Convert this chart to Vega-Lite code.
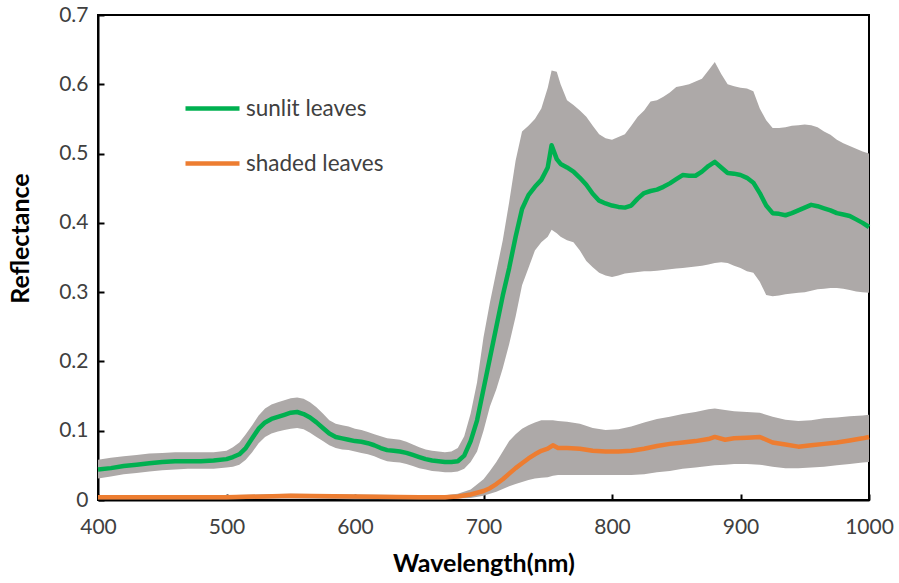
{
  "$schema": "https://vega.github.io/schema/vega-lite/v6.json",
  "width": 771,
  "height": 485,
  "autosize": "none",
  "padding": {"left": 98, "top": 15, "right": 30, "bottom": 83},
  "background": "white",
  "config": {
    "view": {"stroke": "#000000", "strokeWidth": 2},
    "font": "Lato",
    "axis": {
      "domainColor": "#000000",
      "domainWidth": 2,
      "tickColor": "#000000",
      "tickWidth": 2,
      "tickSize": -6,
      "grid": false,
      "labelFlush": false,
      "labelFont": "Lato",
      "labelFontSize": 21,
      "labelColor": "#404040",
      "titleFont": "Lato",
      "titleFontWeight": "bold",
      "titleFontSize": 25,
      "titleColor": "#000000"
    }
  },
  "datasets": {
    "spec": [
      {"w":400,"s":"sunlit leaves","m":0.044,"lo":0.031,"hi":0.058},
      {"w":410,"s":"sunlit leaves","m":0.046,"lo":0.034,"hi":0.061},
      {"w":420,"s":"sunlit leaves","m":0.049,"lo":0.037,"hi":0.063},
      {"w":430,"s":"sunlit leaves","m":0.051,"lo":0.039,"hi":0.065},
      {"w":440,"s":"sunlit leaves","m":0.053,"lo":0.041,"hi":0.067},
      {"w":450,"s":"sunlit leaves","m":0.055,"lo":0.043,"hi":0.068},
      {"w":460,"s":"sunlit leaves","m":0.056,"lo":0.044,"hi":0.069},
      {"w":470,"s":"sunlit leaves","m":0.056,"lo":0.045,"hi":0.069},
      {"w":480,"s":"sunlit leaves","m":0.056,"lo":0.045,"hi":0.069},
      {"w":490,"s":"sunlit leaves","m":0.057,"lo":0.045,"hi":0.069},
      {"w":500,"s":"sunlit leaves","m":0.059,"lo":0.047,"hi":0.071},
      {"w":505,"s":"sunlit leaves","m":0.062,"lo":0.048,"hi":0.076},
      {"w":510,"s":"sunlit leaves","m":0.066,"lo":0.051,"hi":0.083},
      {"w":515,"s":"sunlit leaves","m":0.075,"lo":0.058,"hi":0.095},
      {"w":520,"s":"sunlit leaves","m":0.089,"lo":0.069,"hi":0.108},
      {"w":525,"s":"sunlit leaves","m":0.103,"lo":0.082,"hi":0.122},
      {"w":530,"s":"sunlit leaves","m":0.112,"lo":0.091,"hi":0.132},
      {"w":535,"s":"sunlit leaves","m":0.117,"lo":0.096,"hi":0.138},
      {"w":540,"s":"sunlit leaves","m":0.120,"lo":0.099,"hi":0.141},
      {"w":545,"s":"sunlit leaves","m":0.123,"lo":0.101,"hi":0.144},
      {"w":550,"s":"sunlit leaves","m":0.126,"lo":0.103,"hi":0.147},
      {"w":555,"s":"sunlit leaves","m":0.127,"lo":0.104,"hi":0.148},
      {"w":560,"s":"sunlit leaves","m":0.124,"lo":0.102,"hi":0.146},
      {"w":565,"s":"sunlit leaves","m":0.119,"lo":0.097,"hi":0.141},
      {"w":570,"s":"sunlit leaves","m":0.112,"lo":0.091,"hi":0.134},
      {"w":575,"s":"sunlit leaves","m":0.104,"lo":0.085,"hi":0.125},
      {"w":580,"s":"sunlit leaves","m":0.096,"lo":0.079,"hi":0.115},
      {"w":585,"s":"sunlit leaves","m":0.091,"lo":0.075,"hi":0.110},
      {"w":590,"s":"sunlit leaves","m":0.089,"lo":0.073,"hi":0.108},
      {"w":595,"s":"sunlit leaves","m":0.087,"lo":0.072,"hi":0.106},
      {"w":600,"s":"sunlit leaves","m":0.085,"lo":0.070,"hi":0.103},
      {"w":605,"s":"sunlit leaves","m":0.084,"lo":0.068,"hi":0.101},
      {"w":610,"s":"sunlit leaves","m":0.082,"lo":0.066,"hi":0.098},
      {"w":615,"s":"sunlit leaves","m":0.079,"lo":0.063,"hi":0.095},
      {"w":620,"s":"sunlit leaves","m":0.075,"lo":0.059,"hi":0.092},
      {"w":625,"s":"sunlit leaves","m":0.072,"lo":0.056,"hi":0.089},
      {"w":630,"s":"sunlit leaves","m":0.071,"lo":0.055,"hi":0.088},
      {"w":635,"s":"sunlit leaves","m":0.070,"lo":0.054,"hi":0.087},
      {"w":640,"s":"sunlit leaves","m":0.068,"lo":0.052,"hi":0.084},
      {"w":645,"s":"sunlit leaves","m":0.065,"lo":0.049,"hi":0.080},
      {"w":650,"s":"sunlit leaves","m":0.062,"lo":0.046,"hi":0.076},
      {"w":655,"s":"sunlit leaves","m":0.059,"lo":0.044,"hi":0.073},
      {"w":660,"s":"sunlit leaves","m":0.057,"lo":0.042,"hi":0.071},
      {"w":665,"s":"sunlit leaves","m":0.056,"lo":0.041,"hi":0.070},
      {"w":670,"s":"sunlit leaves","m":0.055,"lo":0.040,"hi":0.069},
      {"w":675,"s":"sunlit leaves","m":0.055,"lo":0.040,"hi":0.070},
      {"w":680,"s":"sunlit leaves","m":0.056,"lo":0.041,"hi":0.075},
      {"w":685,"s":"sunlit leaves","m":0.064,"lo":0.045,"hi":0.092},
      {"w":690,"s":"sunlit leaves","m":0.085,"lo":0.055,"hi":0.125},
      {"w":695,"s":"sunlit leaves","m":0.115,"lo":0.070,"hi":0.170},
      {"w":700,"s":"sunlit leaves","m":0.160,"lo":0.100,"hi":0.235},
      {"w":705,"s":"sunlit leaves","m":0.205,"lo":0.135,"hi":0.285},
      {"w":710,"s":"sunlit leaves","m":0.250,"lo":0.160,"hi":0.330},
      {"w":715,"s":"sunlit leaves","m":0.295,"lo":0.190,"hi":0.375},
      {"w":720,"s":"sunlit leaves","m":0.335,"lo":0.225,"hi":0.430},
      {"w":725,"s":"sunlit leaves","m":0.380,"lo":0.265,"hi":0.490},
      {"w":730,"s":"sunlit leaves","m":0.420,"lo":0.310,"hi":0.532},
      {"w":735,"s":"sunlit leaves","m":0.440,"lo":0.335,"hi":0.540},
      {"w":740,"s":"sunlit leaves","m":0.452,"lo":0.360,"hi":0.550},
      {"w":745,"s":"sunlit leaves","m":0.462,"lo":0.372,"hi":0.565},
      {"w":750,"s":"sunlit leaves","m":0.480,"lo":0.380,"hi":0.595},
      {"w":753,"s":"sunlit leaves","m":0.512,"lo":0.390,"hi":0.620},
      {"w":757,"s":"sunlit leaves","m":0.492,"lo":0.385,"hi":0.618},
      {"w":760,"s":"sunlit leaves","m":0.485,"lo":0.380,"hi":0.600},
      {"w":765,"s":"sunlit leaves","m":0.480,"lo":0.375,"hi":0.577},
      {"w":770,"s":"sunlit leaves","m":0.474,"lo":0.372,"hi":0.570},
      {"w":775,"s":"sunlit leaves","m":0.465,"lo":0.360,"hi":0.562},
      {"w":780,"s":"sunlit leaves","m":0.455,"lo":0.345,"hi":0.553},
      {"w":785,"s":"sunlit leaves","m":0.442,"lo":0.336,"hi":0.540},
      {"w":790,"s":"sunlit leaves","m":0.432,"lo":0.328,"hi":0.528},
      {"w":795,"s":"sunlit leaves","m":0.428,"lo":0.324,"hi":0.522},
      {"w":800,"s":"sunlit leaves","m":0.425,"lo":0.322,"hi":0.520},
      {"w":805,"s":"sunlit leaves","m":0.423,"lo":0.324,"hi":0.524},
      {"w":810,"s":"sunlit leaves","m":0.422,"lo":0.327,"hi":0.528},
      {"w":815,"s":"sunlit leaves","m":0.425,"lo":0.328,"hi":0.540},
      {"w":820,"s":"sunlit leaves","m":0.435,"lo":0.329,"hi":0.553},
      {"w":825,"s":"sunlit leaves","m":0.443,"lo":0.330,"hi":0.562},
      {"w":830,"s":"sunlit leaves","m":0.446,"lo":0.330,"hi":0.575},
      {"w":835,"s":"sunlit leaves","m":0.448,"lo":0.331,"hi":0.577},
      {"w":840,"s":"sunlit leaves","m":0.452,"lo":0.332,"hi":0.582},
      {"w":845,"s":"sunlit leaves","m":0.457,"lo":0.333,"hi":0.588},
      {"w":850,"s":"sunlit leaves","m":0.463,"lo":0.334,"hi":0.596},
      {"w":855,"s":"sunlit leaves","m":0.469,"lo":0.335,"hi":0.598},
      {"w":860,"s":"sunlit leaves","m":0.468,"lo":0.336,"hi":0.600},
      {"w":865,"s":"sunlit leaves","m":0.468,"lo":0.337,"hi":0.604},
      {"w":870,"s":"sunlit leaves","m":0.474,"lo":0.338,"hi":0.608},
      {"w":875,"s":"sunlit leaves","m":0.482,"lo":0.340,"hi":0.620},
      {"w":880,"s":"sunlit leaves","m":0.488,"lo":0.342,"hi":0.632},
      {"w":885,"s":"sunlit leaves","m":0.480,"lo":0.343,"hi":0.615},
      {"w":890,"s":"sunlit leaves","m":0.472,"lo":0.342,"hi":0.600},
      {"w":895,"s":"sunlit leaves","m":0.471,"lo":0.338,"hi":0.597},
      {"w":900,"s":"sunlit leaves","m":0.469,"lo":0.335,"hi":0.595},
      {"w":905,"s":"sunlit leaves","m":0.465,"lo":0.330,"hi":0.594},
      {"w":910,"s":"sunlit leaves","m":0.458,"lo":0.328,"hi":0.590},
      {"w":915,"s":"sunlit leaves","m":0.443,"lo":0.315,"hi":0.565},
      {"w":920,"s":"sunlit leaves","m":0.425,"lo":0.296,"hi":0.548},
      {"w":925,"s":"sunlit leaves","m":0.414,"lo":0.294,"hi":0.537},
      {"w":930,"s":"sunlit leaves","m":0.413,"lo":0.295,"hi":0.537},
      {"w":935,"s":"sunlit leaves","m":0.411,"lo":0.297,"hi":0.538},
      {"w":940,"s":"sunlit leaves","m":0.414,"lo":0.298,"hi":0.540},
      {"w":945,"s":"sunlit leaves","m":0.418,"lo":0.299,"hi":0.541},
      {"w":950,"s":"sunlit leaves","m":0.422,"lo":0.300,"hi":0.542},
      {"w":955,"s":"sunlit leaves","m":0.426,"lo":0.302,"hi":0.541},
      {"w":960,"s":"sunlit leaves","m":0.424,"lo":0.304,"hi":0.538},
      {"w":965,"s":"sunlit leaves","m":0.421,"lo":0.305,"hi":0.532},
      {"w":970,"s":"sunlit leaves","m":0.418,"lo":0.306,"hi":0.527},
      {"w":975,"s":"sunlit leaves","m":0.414,"lo":0.306,"hi":0.520},
      {"w":980,"s":"sunlit leaves","m":0.412,"lo":0.305,"hi":0.515},
      {"w":985,"s":"sunlit leaves","m":0.410,"lo":0.303,"hi":0.511},
      {"w":990,"s":"sunlit leaves","m":0.405,"lo":0.301,"hi":0.507},
      {"w":995,"s":"sunlit leaves","m":0.400,"lo":0.300,"hi":0.503},
      {"w":1000,"s":"sunlit leaves","m":0.394,"lo":0.299,"hi":0.500},
      {"w":400,"s":"shaded leaves","m":0.004,"lo":0.001,"hi":0.007},
      {"w":450,"s":"shaded leaves","m":0.004,"lo":0.001,"hi":0.007},
      {"w":500,"s":"shaded leaves","m":0.004,"lo":0.001,"hi":0.007},
      {"w":550,"s":"shaded leaves","m":0.006,"lo":0.002,"hi":0.009},
      {"w":600,"s":"shaded leaves","m":0.005,"lo":0.001,"hi":0.008},
      {"w":650,"s":"shaded leaves","m":0.004,"lo":0.001,"hi":0.007},
      {"w":670,"s":"shaded leaves","m":0.004,"lo":0.001,"hi":0.007},
      {"w":680,"s":"shaded leaves","m":0.005,"lo":0.002,"hi":0.009},
      {"w":690,"s":"shaded leaves","m":0.008,"lo":0.003,"hi":0.015},
      {"w":700,"s":"shaded leaves","m":0.013,"lo":0.006,"hi":0.030},
      {"w":705,"s":"shaded leaves","m":0.017,"lo":0.009,"hi":0.042},
      {"w":710,"s":"shaded leaves","m":0.023,"lo":0.012,"hi":0.055},
      {"w":715,"s":"shaded leaves","m":0.030,"lo":0.016,"hi":0.070},
      {"w":720,"s":"shaded leaves","m":0.038,"lo":0.020,"hi":0.085},
      {"w":725,"s":"shaded leaves","m":0.046,"lo":0.023,"hi":0.095},
      {"w":730,"s":"shaded leaves","m":0.053,"lo":0.026,"hi":0.103},
      {"w":735,"s":"shaded leaves","m":0.060,"lo":0.029,"hi":0.108},
      {"w":740,"s":"shaded leaves","m":0.066,"lo":0.031,"hi":0.112},
      {"w":745,"s":"shaded leaves","m":0.071,"lo":0.032,"hi":0.115},
      {"w":750,"s":"shaded leaves","m":0.074,"lo":0.033,"hi":0.115},
      {"w":754,"s":"shaded leaves","m":0.079,"lo":0.035,"hi":0.115},
      {"w":758,"s":"shaded leaves","m":0.075,"lo":0.036,"hi":0.114},
      {"w":765,"s":"shaded leaves","m":0.075,"lo":0.036,"hi":0.113},
      {"w":775,"s":"shaded leaves","m":0.074,"lo":0.036,"hi":0.110},
      {"w":785,"s":"shaded leaves","m":0.071,"lo":0.036,"hi":0.104},
      {"w":795,"s":"shaded leaves","m":0.070,"lo":0.036,"hi":0.101},
      {"w":805,"s":"shaded leaves","m":0.070,"lo":0.036,"hi":0.102},
      {"w":815,"s":"shaded leaves","m":0.071,"lo":0.036,"hi":0.106},
      {"w":825,"s":"shaded leaves","m":0.074,"lo":0.037,"hi":0.112},
      {"w":835,"s":"shaded leaves","m":0.078,"lo":0.040,"hi":0.117},
      {"w":845,"s":"shaded leaves","m":0.081,"lo":0.042,"hi":0.120},
      {"w":855,"s":"shaded leaves","m":0.083,"lo":0.045,"hi":0.124},
      {"w":865,"s":"shaded leaves","m":0.085,"lo":0.047,"hi":0.127},
      {"w":875,"s":"shaded leaves","m":0.088,"lo":0.049,"hi":0.131},
      {"w":880,"s":"shaded leaves","m":0.091,"lo":0.050,"hi":0.132},
      {"w":888,"s":"shaded leaves","m":0.087,"lo":0.051,"hi":0.130},
      {"w":895,"s":"shaded leaves","m":0.089,"lo":0.052,"hi":0.128},
      {"w":905,"s":"shaded leaves","m":0.090,"lo":0.052,"hi":0.127},
      {"w":915,"s":"shaded leaves","m":0.091,"lo":0.051,"hi":0.126},
      {"w":925,"s":"shaded leaves","m":0.083,"lo":0.048,"hi":0.120},
      {"w":935,"s":"shaded leaves","m":0.080,"lo":0.046,"hi":0.116},
      {"w":945,"s":"shaded leaves","m":0.077,"lo":0.046,"hi":0.114},
      {"w":955,"s":"shaded leaves","m":0.079,"lo":0.047,"hi":0.115},
      {"w":965,"s":"shaded leaves","m":0.081,"lo":0.048,"hi":0.118},
      {"w":975,"s":"shaded leaves","m":0.083,"lo":0.050,"hi":0.119},
      {"w":985,"s":"shaded leaves","m":0.086,"lo":0.052,"hi":0.121},
      {"w":995,"s":"shaded leaves","m":0.089,"lo":0.054,"hi":0.122},
      {"w":1000,"s":"shaded leaves","m":0.091,"lo":0.055,"hi":0.123}
    ]
  },
  "data": {"name": "spec"},
  "encoding": {
    "x": {
      "field": "w", "type": "quantitative",
      "scale": {"domain": [400, 1000], "nice": false, "zero": false},
      "axis": {"values": [400,500,600,700,800,900,1000], "format": "d", "title": "Wavelength(nm)", "labelPadding": 22, "titlePadding": 14}
    }
  },
  "layer": [
    {
      "mark": {"type": "area", "color": "#ADA9A8", "opacity": 1},
      "encoding": {
        "y": {"field": "lo", "type": "quantitative",
          "scale": {"domain": [0, 0.7], "nice": false},
          "axis": {"values": [0,0.1,0.2,0.3,0.4,0.5,0.6,0.7], "title": "Reflectance",
            "labelExpr": "datum.value == 0 ? '0' : format(datum.value, '.1f')",
            "labelPadding": 16, "titleX": -65, "titleY": 223}},
        "y2": {"field": "hi"},
        "detail": {"field": "s"}
      }
    },
    {
      "mark": {"type": "line", "strokeWidth": 4.5, "strokeJoin": "round"},
      "encoding": {
        "y": {"field": "m", "type": "quantitative"},
        "color": {
          "field": "s", "type": "nominal",
          "scale": {"domain": ["sunlit leaves", "shaded leaves"], "range": ["#00B050", "#ED7D31"]},
          "legend": {
            "title": null, "orient": "none", "legendX": 85, "legendY": 64,
            "symbolType": "stroke", "symbolSize": 2916, "symbolStrokeWidth": 4.5,
            "labelFont": "Lato", "labelFontSize": 22.5, "labelColor": "#404040",
            "labelOffset": 4, "rowPadding": 14
          }
        }
      }
    }
  ]
}
